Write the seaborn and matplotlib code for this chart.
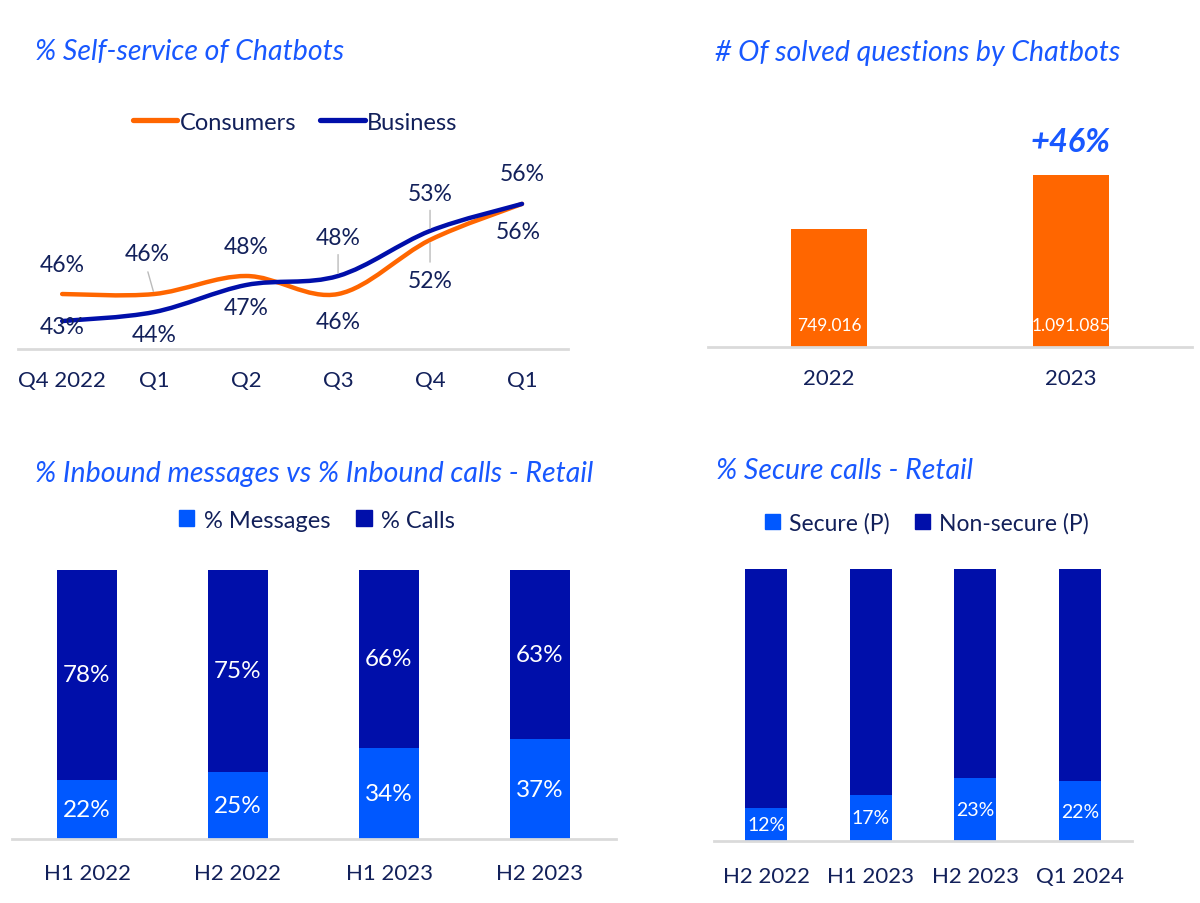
import matplotlib
matplotlib.use("Agg")
import matplotlib.pyplot as plt
import seaborn as sns
import numpy as np
from matplotlib.path import Path
from matplotlib.patches import PathPatch
from matplotlib.lines import Line2D
from matplotlib.patches import Patch

# --- data ---
quarters = ["Q4 2022", "Q1", "Q2", "Q3", "Q4", "Q1"]
consumers = [46, 46, 48, 46, 52, 56]
business = [43, 44, 47, 48, 53, 56]

years = ["2022", "2023"]
solved = [749016, 1091085]
solved_labels = ["749.016", "1.091.085"]
growth_label = "+46%"

halves = ["H1 2022", "H2 2022", "H1 2023", "H2 2023"]
messages = [22, 25, 34, 37]
calls = [78, 75, 66, 63]

secure_periods = ["H2 2022", "H1 2023", "H2 2023", "Q1 2024"]
secure = [12, 17, 23, 22]
non_secure = [88, 83, 77, 78]

# --- style ---
ORANGE = "#FF6600"
DARK = "#000FAA"
BRIGHT = "#0058FF"
TITLE = "#1858FF"
TEXT = "#12205A"
GRID = "#DADADA"

sns.set_style("white")
plt.rcParams["font.family"] = ["Lato", "DejaVu Sans"]
plt.rcParams["text.color"] = TEXT

W, H = 1200, 904
fig = plt.figure(figsize=(W / 100, H / 100), dpi=100)


def rect(l, t, r, b):
    return [l / W, 1 - b / H, (r - l) / W, (b - t) / H]


def clean(ax, pad):
    for s in ["top", "right", "left"]:
        ax.spines[s].set_visible(False)
    ax.spines["bottom"].set_color(GRID)
    ax.spines["bottom"].set_linewidth(2)
    ax.set_yticks([])
    ax.set_xlabel("")
    ax.set_ylabel("")
    ax.tick_params(axis="x", length=0, pad=pad, labelsize=16, labelcolor=TEXT)


def smooth_path(xs, ys):
    pts = np.column_stack([xs, ys]).astype(float)
    ext = np.vstack([pts[0], pts, pts[-1]])
    verts = [pts[0]]
    codes = [Path.MOVETO]
    for i in range(len(pts) - 1):
        p0, p1, p2, p3 = ext[i], ext[i + 1], ext[i + 2], ext[i + 3]
        verts += [p1 + (p2 - p0) / 6, p2 - (p3 - p1) / 6, p2]
        codes += [Path.CURVE4] * 3
    return Path(verts, codes)


# Titles
title_kw = dict(color=TITLE, fontsize=20.5, style="italic", va="center", ha="left")
fig.text(35 / W, 1 - 52 / H, "% Self-service of Chatbots", **title_kw)
fig.text(715 / W, 1 - 53 / H, "# Of solved questions by Chatbots", **title_kw)
fig.text(35 / W, 1 - 474 / H, "% Inbound messages vs % Inbound calls - Retail", **title_kw)
fig.text(716 / W, 1 - 471 / H, "% Secure calls - Retail", **title_kw)

# --- top left: line chart ---
ax1 = fig.add_axes(rect(18, 140, 568, 350))
x = np.arange(len(quarters))
ax1.add_patch(PathPatch(smooth_path(x, consumers), fill=False, edgecolor=ORANGE, lw=3.2, capstyle="round"))
ax1.add_patch(PathPatch(smooth_path(x, business), fill=False, edgecolor=DARK, lw=3.2, capstyle="round"))
ax1.set_xlim(-0.48, 5.5)
ax1.set_ylim(39.9, 63.2)
ax1.set_xticks(x)
ax1.set_xticklabels(quarters)
clean(ax1, 15)

# label offsets in points (dx, dy) and whether a leader line is drawn
c_off = [(0, 21), (-5, 29), (0, 21), (0, -20), (0, -29), (-3, -20)]
c_lead = [False, True, False, False, True, False]
b_off = [(0, -4), (0, -16), (0, -16), (0, 28), (0, 27), (0, 22)]
b_lead = [False, False, False, True, True, False]
for vals, offs, leads in [(consumers, c_off, c_lead), (business, b_off, b_lead)]:
    for i, v in enumerate(vals):
        ax1.annotate(f"{v}%", (i, v), xytext=offs[i], textcoords="offset points",
                     ha="center", va="center", fontsize=16.5, color=TEXT)
        if leads[i]:
            ax1.annotate("", (i, v), xytext=(offs[i][0] * 0.9, offs[i][1] * 0.55),
                         textcoords="offset points",
                         arrowprops=dict(arrowstyle="-", color="#BBBBBB", lw=1, shrinkA=0, shrinkB=2))

handles = [Line2D([], [], color=ORANGE, lw=3.8), Line2D([], [], color=DARK, lw=3.8)]
fig.legend(handles, ["Consumers", "Business"], loc="center", bbox_to_anchor=(295 / W, 1 - 123 / H),
           ncol=2, frameon=False, fontsize=17, handlelength=1.9, handletextpad=0.1,
           columnspacing=1.0, labelcolor=TEXT)

# --- top right: bar chart ---
ax2 = fig.add_axes(rect(708, 100, 1192, 348))
sns.barplot(x=years, y=solved, color=ORANGE, saturation=1, width=0.314, linewidth=0, ax=ax2)
ax2.set_ylim(0, 1573198)
clean(ax2, 15)
for i, v in enumerate(solved):
    ax2.annotate(solved_labels[i], (i, 0), xytext=(0, 16), textcoords="offset points",
                 ha="center", va="center", color="white", fontsize=12.5)
ax2.annotate(growth_label, (1, solved[1]), xytext=(0, 24), textcoords="offset points",
             ha="center", va="center", color=TITLE, fontsize=23.5, fontweight="bold", style="italic")

# --- bottom left: stacked bars ---
ax3 = fig.add_axes(rect(11.5, 571, 615.5, 840))
sns.barplot(x=halves, y=np.add(messages, calls), color=DARK, saturation=1, width=0.4, linewidth=0, ax=ax3)
sns.barplot(x=halves, y=messages, color=BRIGHT, saturation=1, width=0.4, linewidth=0, ax=ax3)
ax3.set_ylim(0, 100)
clean(ax3, 17)
for i in range(len(halves)):
    ax3.text(i, messages[i] / 2, f"{messages[i]}%", ha="center", va="center", color="white", fontsize=17.5)
    ax3.text(i, messages[i] + calls[i] / 2, f"{calls[i]}%", ha="center", va="center", color="white", fontsize=17.5)
fig.legend([Patch(color=BRIGHT), Patch(color=DARK)], ["% Messages", "% Calls"], loc="center",
           bbox_to_anchor=(317 / W, 1 - 521 / H), ncol=2, frameon=False, fontsize=17,
           handlelength=0.65, handleheight=0.65, handletextpad=0.4, columnspacing=1.1, labelcolor=TEXT)

# --- bottom right: stacked bars ---
ax4 = fig.add_axes(rect(714, 570, 1132, 842))
sns.barplot(x=secure_periods, y=np.add(secure, non_secure), color=DARK, saturation=1, width=0.4, linewidth=0, ax=ax4)
sns.barplot(x=secure_periods, y=secure, color=BRIGHT, saturation=1, width=0.4, linewidth=0, ax=ax4)
ax4.set_ylim(0, 100)
clean(ax4, 18)
for i in range(len(secure_periods)):
    ax4.text(i, secure[i] / 2, f"{secure[i]}%", ha="center", va="center", color="white", fontsize=14)
fig.legend([Patch(color=BRIGHT), Patch(color=DARK)], ["Secure (P)", "Non-secure (P)"], loc="center",
           bbox_to_anchor=(927 / W, 1 - 524 / H), ncol=2, frameon=False, fontsize=16.5,
           handlelength=0.65, handleheight=0.65, handletextpad=0.4, columnspacing=1.1, labelcolor=TEXT)

fig.savefig("out.png", dpi=100, facecolor="white")
